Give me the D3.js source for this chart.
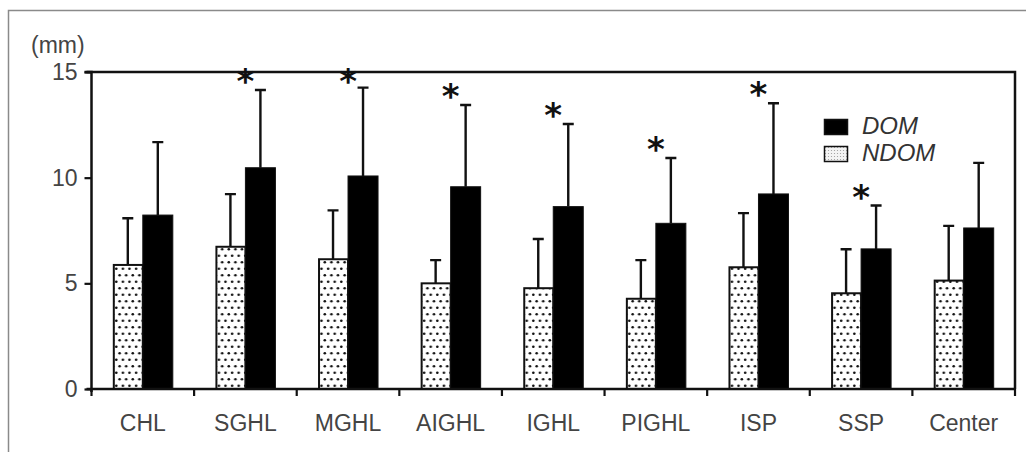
<!DOCTYPE html>
<html><head><meta charset="utf-8">
<script src="https://cdn.jsdelivr.net/npm/d3@7"></script>
<style>html,body{margin:0;padding:0;background:#fff;}svg{display:block;}</style>
</head><body>
<svg id="chart" width="1026" height="452"></svg>
<script>
const categories = ["CHL","SGHL","MGHL","AIGHL","IGHL","PIGHL","ISP","SSP","Center"];
const series = ["NDOM","DOM"];
const ndomMean = [5.87, 6.73, 6.14, 5.0, 4.77, 4.27, 5.76, 4.53, 5.13];
const ndomUpper = [8.08, 9.22, 8.45, 6.1, 7.1, 6.1, 8.32, 6.61, 7.72];
const domMean = [8.23, 10.47, 10.08, 9.57, 8.63, 7.84, 9.23, 6.63, 7.62];
const domUpper = [11.68, 14.15, 14.26, 13.44, 12.54, 10.93, 13.52, 8.68, 10.7];
const significant = [false, true, true, true, true, true, true, true, false];
const yTicks = [0, 5, 10, 15];
const yUnit = "(mm)";

const svg = d3.select("#chart");
const font = "'Liberation Sans', Arial, sans-serif";
const ink = "#111";
const textCol = "#444";

svg.append("path").attr("d","M8.5,452 L8.5,10.5 L1026,10.5")
  .attr("fill","none").attr("stroke","#8a8a8a").attr("stroke-width",1.5);

const pLeft = 91.5, pRight = 1015, pTop = 72, pBottom = 389;
const x = d3.scaleBand().domain(categories).range([pLeft, pRight]).padding(0);
const bw = x.bandwidth();
const xs = d3.scaleBand().domain(series).range([bw/2 - 30, bw/2 + 30]).padding(0);
const y = d3.scaleLinear().domain([0, 15]).range([pBottom, pTop]);

const defs = svg.append("defs");
const pat = defs.append("pattern").attr("id","dots").attr("patternUnits","userSpaceOnUse")
  .attr("width",6.6).attr("height",13).attr("x",0).attr("y",pBottom);
pat.append("rect").attr("width",6.6).attr("height",13).attr("fill","#fff");
pat.append("circle").attr("cx",1.7).attr("cy",3.2).attr("r",1.3).attr("fill","#111");
pat.append("circle").attr("cx",5.0).attr("cy",9.7).attr("r",1.3).attr("fill","#111");
const pat2 = defs.append("pattern").attr("id","fine").attr("patternUnits","userSpaceOnUse")
  .attr("width",3).attr("height",3);
pat2.append("rect").attr("width",3).attr("height",3).attr("fill","#f4f4f4");
pat2.append("circle").attr("cx",1.5).attr("cy",1.5).attr("r",0.6).attr("fill","#999");

svg.append("path").attr("d",`M${pLeft-5},${pTop} L${pRight},${pTop} L${pRight},${pBottom}`)
  .attr("fill","none").attr("stroke",ink).attr("stroke-width",2.5);

const data = categories.map((c,i)=>({c, vals:[
  {s:"NDOM", m:ndomMean[i], u:ndomUpper[i]},
  {s:"DOM", m:domMean[i], u:domUpper[i]}], sig:significant[i]}));

const g = svg.append("g");
const groups = g.selectAll("g.cat").data(data).join("g").attr("class","cat")
  .attr("transform", d=>`translate(${x(d.c)},0)`);

groups.selectAll("path.err").data(d=>d.vals).join("path").attr("class","err")
  .attr("d", v=>{const cx = xs(v.s)+xs.bandwidth()/2;
    return `M${cx},${y(v.m)} L${cx},${y(v.u)} M${cx-5.5},${y(v.u)} L${cx+5.5},${y(v.u)}`;})
  .attr("fill","none").attr("stroke",ink).attr("stroke-width",2.4);

groups.selectAll("rect.bar").data(d=>d.vals).join("rect").attr("class","bar")
  .attr("x", v=>xs(v.s) + (v.s==="NDOM"?1:0))
  .attr("width", v=>xs.bandwidth() - (v.s==="NDOM"?1:0))
  .attr("y", v=>y(v.m)).attr("height", v=>y(0)-y(v.m))
  .attr("fill", v=>v.s==="DOM" ? "#000" : "url(#dots)")
  .attr("stroke", ink).attr("stroke-width", v=>v.s==="NDOM"?2:1);

groups.filter(d=>d.sig).append("text")
  .attr("x", d=>xs("DOM") + xs.bandwidth()/2 - 15)
  .attr("y", d=>Math.max(y(d.vals[1].u) - 10, pTop + 8) + 13)
  .attr("text-anchor","middle")
  .attr("font-family","'DejaVu Sans', sans-serif").attr("font-weight","bold")
  .attr("font-size",34).attr("fill",ink).text("*");

const yAxis = svg.append("g").attr("transform",`translate(${pLeft},0)`)
  .call(d3.axisLeft(y).tickValues(yTicks).tickSize(7).tickPadding(7).tickFormat(d3.format("d")));
yAxis.select(".domain").attr("stroke",ink).attr("stroke-width",2.5).attr("d",`M-7,${pTop}H0V${pBottom+3}`);
yAxis.selectAll(".tick line").attr("stroke",ink).attr("stroke-width",2.2);
yAxis.selectAll(".tick text").attr("font-family",font).attr("font-size",23).attr("fill",textCol);

const xAxis = svg.append("g").attr("transform",`translate(0,${pBottom})`)
  .call(d3.axisBottom(x).tickSize(0).tickPadding(0));
xAxis.select(".domain").attr("stroke",ink).attr("stroke-width",2.5).attr("d",`M${pLeft-5},0H${pRight}`);
xAxis.selectAll(".tick text").attr("font-family",font).attr("font-size",23).attr("fill",textCol)
  .attr("dy",0).attr("y",42);
const boundaries = categories.map(c=>x(c)).concat([x(categories[categories.length-1])+bw]);
xAxis.selectAll("line.bnd").data(boundaries).join("line").attr("class","bnd")
  .attr("x1",d=>d).attr("x2",d=>d).attr("y1",0).attr("y2",7)
  .attr("stroke",ink).attr("stroke-width",2.2);

svg.append("text").attr("x",31).attr("y",53).attr("font-family",font)
  .attr("font-size",23).attr("fill",textCol).text(yUnit);

const legendItems = [{s:"DOM", fill:"#000"},{s:"NDOM", fill:"url(#fine)"}];
const lg = svg.append("g").attr("transform","translate(824,119)");
legendItems.forEach((it,i)=>{
  lg.append("rect").attr("x",0.5).attr("y",i*27+0.5).attr("width",23).attr("height",15)
    .attr("fill",it.fill).attr("stroke","#111").attr("stroke-width",1.5);
  lg.append("text").attr("x",38).attr("y",i*27+15).attr("font-family",font)
    .attr("font-style","italic").attr("font-size",24).attr("fill","#333").text(it.s);
});
</script>
</body></html>
